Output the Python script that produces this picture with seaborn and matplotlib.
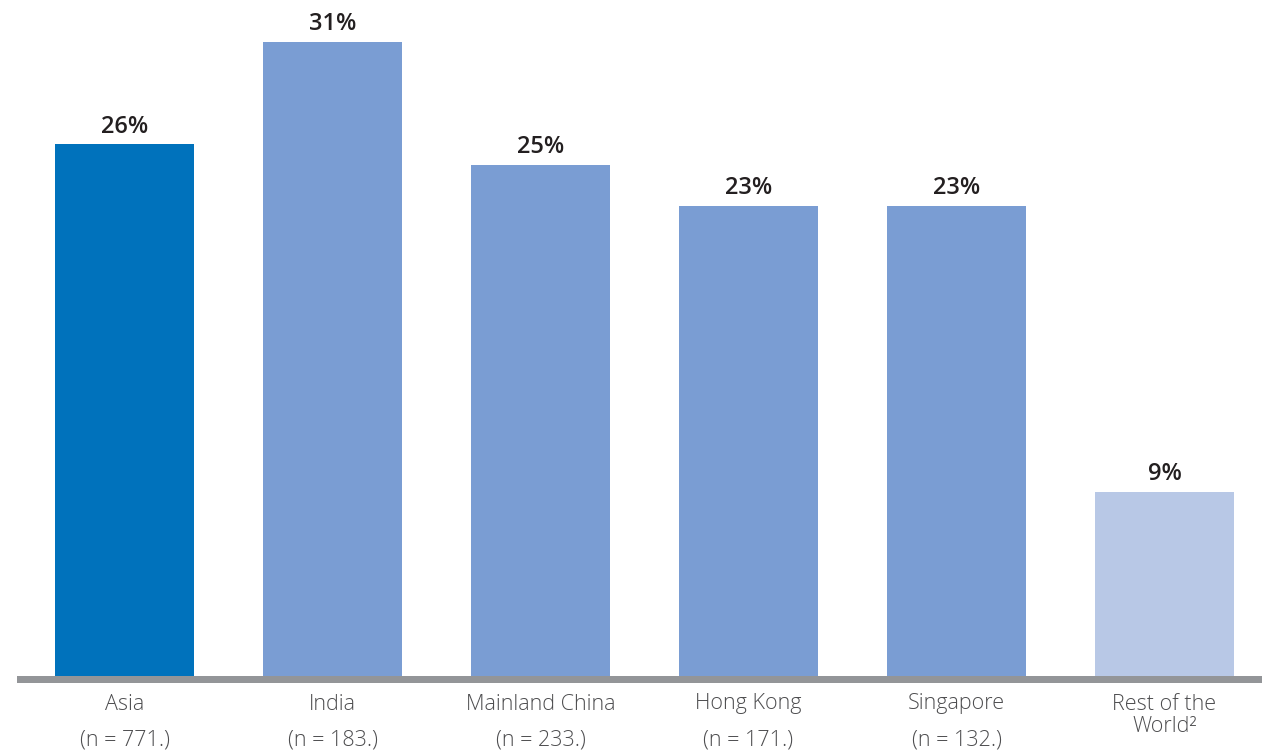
import matplotlib
matplotlib.use("Agg")
import matplotlib.pyplot as plt
import seaborn as sns
import pandas as pd

# Share of respondents by market
categories = ["Asia", "India", "Mainland China", "Hong Kong", "Singapore", "Rest of the\nWorld²"]
values = [26, 31, 25, 23, 23, 9]
sample_sizes = ["(n = 771.)", "(n = 183.)", "(n = 233.)", "(n = 171.)", "(n = 132.)", ""]
bar_colors = ["#0072BC", "#7A9DD3", "#7A9DD3", "#7A9DD3", "#7A9DD3", "#B8C8E6"]

sns.set_theme(style="white")
plt.rcParams["font.family"] = ["Open Sans", "DejaVu Sans"]

df = pd.DataFrame({"market": categories, "share": values})

fig = plt.figure(figsize=(12.62, 7.51), dpi=100)
W, H = 1262, 751
px_per_unit = 20.45
band_px = 7
ax = fig.add_axes([17 / W, (H - 683) / H, (W - 17) / W, 683 / H])

sns.barplot(data=df, x="market", y="share", hue="market", palette=bar_colors,
            width=0.668, saturation=1, legend=False, linewidth=0, ax=ax)

ax.set_xlim(-107.5 / 208, (W - 124.5) / 208)
ax.set_ylim(-band_px / px_per_unit, 676 / px_per_unit)

# grey baseline band under the bars
ax.axhspan(-band_px / px_per_unit, 0, color="#939598", lw=0, zorder=3)

for container in ax.containers:
    ax.bar_label(container, labels=[f"{v:.0f}%" for v in container.datavalues],
                 padding=4, fontsize=17, fontweight="semibold", color="#231F20")

ax.set_xlabel("")
ax.set_ylabel("")
ax.set_xticks([])
ax.set_yticks([])
for s in ax.spines.values():
    s.set_visible(False)

# category names and sample sizes below the axis
for i, (name, n) in enumerate(zip(categories, sample_sizes)):
    x_fig = (124.5 + 208 * i) / W
    fig.text(x_fig, 1 - 704 / H, name.split("\n")[0], ha="center", va="center",
             fontsize=15.5, fontweight="light", color="#4D4D4F")
    if "\n" in name:
        fig.text(x_fig, 1 - 727 / H, name.split("\n")[1], ha="center", va="center",
                 fontsize=15.5, fontweight="light", color="#4D4D4F")
    if n:
        fig.text(x_fig, 1 - 740 / H, n, ha="center", va="center", fontsize=15.5,
                 fontweight="light", color="#4D4D4F")

fig.savefig("out.png", dpi=100)
